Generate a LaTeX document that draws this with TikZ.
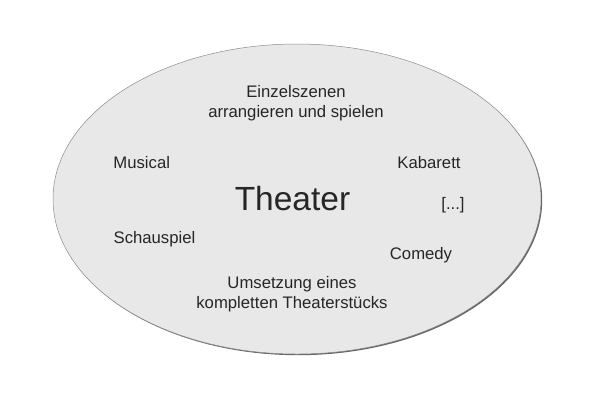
\documentclass[tikz,border=0pt]{standalone}
\usepackage{fontspec}
\setmainfont{Liberation Sans}
\begin{document}
\begin{tikzpicture}[x=1pt,y=-1pt,
  lbl/.style={text=black!85, font=\fontsize{16.7}{20}\selectfont, inner sep=0pt, align=center},
  big/.style={text=black!85, font=\fontsize{33.5}{38}\selectfont, inner sep=0pt}]
\useasboundingbox (0,0) rectangle (600,400);
\fill[black!60] (298.2,200.2) ellipse (244 and 155);
\fill[black!9, draw=black!45, line width=0.5pt] (297,199) ellipse (244 and 155);
\node[big] (theater) at (292.5,199) {Theater};
\node[lbl] (einzel) at (296,103) {Einzelszenen\\arrangieren und spielen};
\node[lbl] (musical) at (141.7,162.5) {Musical};
\node[lbl] (kabarett) at (429,163) {Kabarett};
\node[lbl] (etc) at (453,205) {[...]};
\node[lbl] (schau) at (154.5,239) {Schauspiel};
\node[lbl] (comedy) at (421,255) {Comedy};
\node[lbl] (umsetz) at (292,294) {Umsetzung eines\\kompletten Theaterstücks};
\end{tikzpicture}
\end{document}
